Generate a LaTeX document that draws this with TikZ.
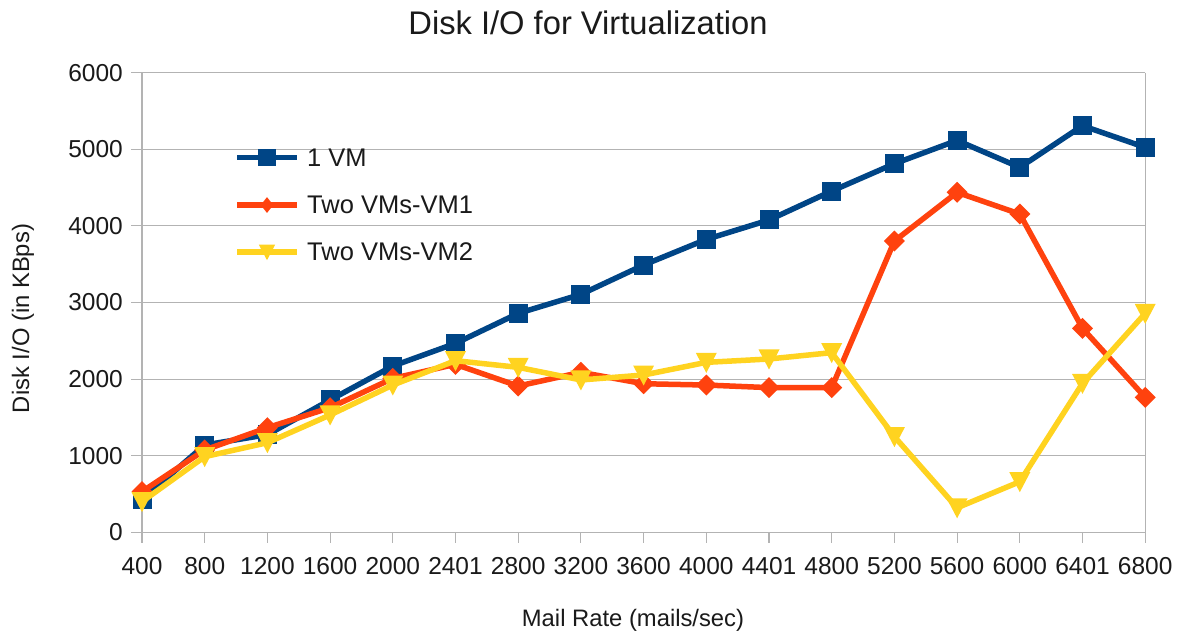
\documentclass[tikz,border=0pt]{standalone}
\usepackage{fontspec}
\setmainfont{Liberation Sans}
\definecolor{seriesA}{HTML}{004586}
\definecolor{seriesB}{HTML}{FF420E}
\definecolor{seriesC}{HTML}{FFD320}
\definecolor{gridc}{HTML}{B3B3B3}
\definecolor{txt}{HTML}{1A1A1A}
\newcommand{\fsz}[1]{\fontsize{#1}{#1}\selectfont}
\tikzset{
  gridline/.style={draw=gridc, line width=1.1pt},
  seriesline/.style={line width=5.5pt, line join=round},
  ticklabel/.style={text=txt, inner sep=0pt, font=\fsz{24.5}},
  axistitle/.style={text=txt, inner sep=0pt, font=\fsz{23.8}},
  squaremark/.pic={\fill[seriesA] (-9.5,-9.5) rectangle (9.5,9.5);},
  diamondmark/.pic={\fill[seriesB] (0,-10.5) -- (10.5,0) -- (0,10.5) -- (-10.5,0) -- cycle;},
  trianglemark/.pic={\fill[seriesC] (-10.5,-9.5) -- (10.5,-9.5) -- (0,10.5) -- cycle;},
}
\begin{document}
\begin{tikzpicture}[x=1pt,y=-1pt]
\useasboundingbox[fill=white] (0,0) rectangle (1183,635);

% horizontal grid lines with their ticks, and value labels
\foreach \v [count=\k from 0] in {0,1000,2000,3000,4000,5000,6000} {
  \draw[gridline] (131,{532.3-\k*76.6}) -- (1145.3,{532.3-\k*76.6});
  \node[ticklabel, anchor=east] (yl\k) at (123,{532.3-\k*76.6}) {\v};
}
% axis line, right border and category ticks
\draw[gridline] (142,72.7) -- (142,543);
\draw[gridline] (1145.3,72.7) -- (1145.3,543);
\foreach \c [count=\i from 0] in {400,800,1200,1600,2000,2401,2800,3200,3600,4000,4401,4800,5200,5600,6000,6401,6800} {
  \draw[gridline] ({142+\i*62.7},532.3) -- ({142+\i*62.7},543);
  \node[ticklabel] (xl\i) at ({142+\i*62.7},566) {\c};
}

% data points
\foreach \v [count=\i from 0] in {430,1140,1275,1728,2171,2467,2859,3107,3490,3825,4078,4456,4813,5117,4765,5309,5026}
  \coordinate (a\i) at ({142+\i*62.7},{532.3-\v*0.07658});
\foreach \v [count=\i from 0] in {531,1075,1366,1627,2010,2193,1910,2089,1940,1923,1889,1889,3803,4439,4156,2663,1762}
  \coordinate (b\i) at ({142+\i*62.7},{532.3-\v*0.07658});
\foreach \v [count=\i from 0] in {400,988,1170,1532,1923,2241,2154,1989,2054,2219,2263,2346,1249,320,661,1945,2859}
  \coordinate (c\i) at ({142+\i*62.7},{532.3-\v*0.07658});

% series: 1 VM
\draw[seriesline, seriesA] (a0) \foreach \i in {1,...,16} {-- (a\i)};
\foreach \i in {0,...,16} \pic at (a\i) {squaremark};
% series: Two VMs-VM1
\draw[seriesline, seriesB] (b0) \foreach \i in {1,...,16} {-- (b\i)};
\foreach \i in {0,...,16} \pic at (b\i) {diamondmark};
% series: Two VMs-VM2
\draw[seriesline, seriesC] (c0) \foreach \i in {1,...,16} {-- (c\i)};
\foreach \i in {0,...,16} \pic at (c\i) {trianglemark};

% legend
\coordinate (la1) at (237,157.5); \coordinate (la2) at (297,157.5);
\coordinate (lb1) at (237,205); \coordinate (lb2) at (297,205);
\coordinate (lc1) at (237,252); \coordinate (lc2) at (297,252);
\draw[seriesline, seriesA] (la1) -- (la2);
\pic[scale=0.9] at (267,157.5) {squaremark};
\node[ticklabel, anchor=west, font=\fsz{25.5}] (lga) at (307,158) {1 VM};
\draw[seriesline, seriesB] (lb1) -- (lb2);
\pic[xscale=0.6, yscale=0.75] at (267,205) {diamondmark};
\node[ticklabel, anchor=west, font=\fsz{25.5}] (lgb) at (307,205) {Two VMs-VM1};
\draw[seriesline, seriesC] (lc1) -- (lc2);
\pic[scale=0.78] at (267,252) {trianglemark};
\node[ticklabel, anchor=west, font=\fsz{25.5}] (lgc) at (307,252) {Two VMs-VM2};

% titles
\node[text=txt, inner sep=0pt, font=\fsz{32.7}] (title) at (588,23) {Disk I/O for Virtualization};
\node[axistitle, rotate=90] (ytitle) at (23,318.5) {Disk I/O (in KBps)};
\node[axistitle] (xtitle) at (633,620) {Mail Rate (mails/sec)};
\end{tikzpicture}
\end{document}
